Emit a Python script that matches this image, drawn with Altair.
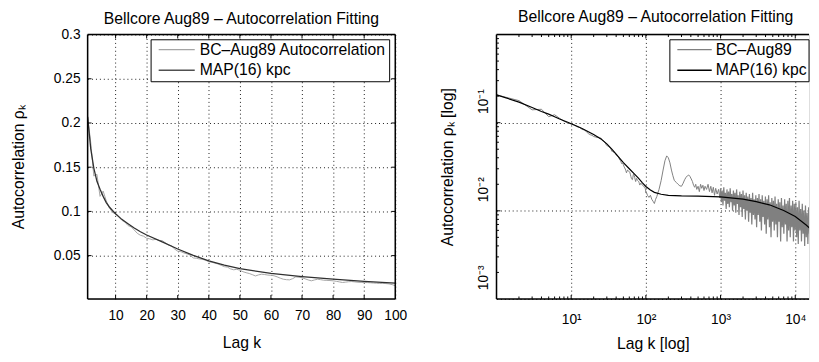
import altair as alt
import pandas as pd

FONT = "Liberation Sans"
TITLE = "Bellcore Aug89 \u2013 Autocorrelation Fitting"

# ---------------- data ----------------
# measured autocorrelation, lags 1..100
lags_short = list(range(1, 101))
acf_short = [0.207, 0.178, 0.140, 0.142, 0.117, 0.123, 0.112, 0.104, 0.099, 0.097,
             0.094, 0.090, 0.088, 0.084, 0.0826, 0.079, 0.0752, 0.073, 0.072, 0.0696,
             0.0690, 0.0678, 0.0685, 0.0672, 0.0670, 0.0645, 0.0620, 0.0610, 0.0575, 0.0550,
             0.0545, 0.0530, 0.0520, 0.0505, 0.0474, 0.0470, 0.0462, 0.0458, 0.0448, 0.0430,
             0.0425, 0.0415, 0.0405, 0.0390, 0.0375, 0.0370, 0.0350, 0.0340, 0.0345, 0.0335,
             0.0318, 0.0307, 0.0298, 0.0285, 0.0270, 0.0282, 0.0290, 0.0286, 0.0280, 0.0278,
             0.0272, 0.0260, 0.0245, 0.0233, 0.0228, 0.0226, 0.0240, 0.0260, 0.0255, 0.0250,
             0.0238, 0.0225, 0.0215, 0.0225, 0.0233, 0.0228, 0.0222, 0.0220, 0.0218, 0.0215,
             0.0210, 0.0203, 0.0196, 0.0200, 0.0205, 0.0207, 0.0203, 0.0199, 0.0197, 0.0196,
             0.0195, 0.0193, 0.0190, 0.0188, 0.0185, 0.0186, 0.0184, 0.0180, 0.0172, 0.0160]

# measured autocorrelation, lags beyond 100 (log panel only)
lags_tail = [101, 105, 110, 115, 120, 125, 130, 135, 140, 145, 150, 160, 170, 180, 190,
             200, 210, 220, 230, 240, 255, 270, 285, 300, 315, 330, 345, 360, 375, 390,
             405, 420, 435, 450, 465, 480, 500, 520, 540, 560, 580, 600, 620, 650, 680,
             710, 740, 770, 800, 830, 860, 900, 940, 980,
             1000, 1025, 1051, 1077, 1104, 1131, 1160, 1189, 1218, 1249, 1280, 1312, 1345,
             1379, 1413, 1448, 1485, 1522, 1560, 1599, 1639, 1680, 1722, 1765, 1809, 1854,
             1900, 1948, 1997,
             2046, 2098, 2150, 2204, 2259, 2315, 2373, 2433, 2493, 2556, 2620, 2685, 2752,
             2821, 2892, 2964, 3038, 3114, 3192, 3271, 3353, 3437, 3523, 3611, 3701, 3794,
             3889, 3986, 4085, 4188, 4292, 4400, 4510, 4622, 4738, 4856, 4978,
             5102, 5230, 5361, 5495, 5632, 5773, 5917, 6065, 6217, 6372, 6531, 6695, 6862,
             7034, 7209, 7390, 7574, 7764, 7958, 8157, 8361, 8570, 8784, 9003, 9229, 9459,
             9696, 9938,
             10187, 10441, 10703, 10970, 11244, 11525, 11814, 12109, 12412, 12722, 13040,
             13366, 13701, 14043, 14394, 14754, 15123, 15501, 15889, 16286]
acf_tail = [0.0165, 0.0150, 0.0142, 0.0150, 0.0135, 0.0128, 0.0121, 0.0135, 0.0145, 0.0160,
            0.0175, 0.0220, 0.0290, 0.0370, 0.0420, 0.0400, 0.0350, 0.0290, 0.0250, 0.0222,
            0.0210, 0.0200, 0.0192, 0.0190, 0.0205, 0.0225, 0.0240, 0.0250, 0.0255, 0.0245,
            0.0230, 0.0215, 0.0195, 0.0185, 0.0200, 0.0175, 0.0190, 0.0165, 0.0200, 0.0180,
            0.0195, 0.0170, 0.0190, 0.0175, 0.0200, 0.0165, 0.0190, 0.0160, 0.0185, 0.0150,
            0.0180, 0.0155, 0.0175, 0.0140,
            0.0180, 0.0125, 0.0170, 0.0115, 0.0185, 0.0130, 0.0160, 0.0105, 0.0175, 0.0120,
            0.0165, 0.0110, 0.0180, 0.0125, 0.0155, 0.0100, 0.0170, 0.0115, 0.0160, 0.0095,
            0.0175, 0.0120, 0.0150, 0.0090, 0.0165, 0.0110, 0.0155, 0.0085, 0.0170,
            0.0105, 0.0150, 0.0080, 0.0160, 0.0100, 0.0145, 0.0075, 0.0155, 0.0095, 0.0140,
            0.0070, 0.0160, 0.0090, 0.0135, 0.0080, 0.0150, 0.0065, 0.0140, 0.0090, 0.0155,
            0.0075, 0.0135, 0.0060, 0.0150, 0.0085, 0.0130, 0.0070, 0.0145, 0.0055, 0.0135,
            0.0080, 0.0150, 0.0065, 0.0125, 0.0050, 0.0140, 0.0075,
            0.0130, 0.0060, 0.0145, 0.0070, 0.0120, 0.0050, 0.0135, 0.0075, 0.0125, 0.0045,
            0.0140, 0.0065, 0.0115, 0.0055, 0.0135, 0.0070, 0.0120, 0.0045, 0.0130, 0.0060,
            0.0140, 0.0050, 0.0115, 0.0065, 0.0130, 0.0045, 0.0120, 0.0060,
            0.0125, 0.0050, 0.0110, 0.0042, 0.0130, 0.0060, 0.0105, 0.0045, 0.0120, 0.0055,
            0.0100, 0.0040, 0.0115, 0.0050, 0.0095, 0.0042, 0.0110, 0.0055, 0.0090, 0.0045]

# MAP(16) fitted curve
map_lags = [1, 2, 3, 4, 5, 6, 7, 8, 9, 10, 12, 14, 16, 18, 20, 25, 30, 35, 40, 45, 50,
            60, 70, 80, 90, 100, 115, 130, 160, 200, 300, 500, 1000, 2000, 3000, 4500,
            7000, 10000, 14000, 18000]
map_vals = [0.207, 0.171, 0.149, 0.134, 0.125, 0.117, 0.110, 0.105, 0.101, 0.0974,
            0.0910, 0.0860, 0.0812, 0.0770, 0.0733, 0.0655, 0.0575, 0.0502, 0.0440, 0.0392,
            0.0352, 0.0300, 0.0263, 0.0233, 0.0208, 0.0189, 0.0172, 0.0162, 0.0154, 0.0150,
            0.0148, 0.0147, 0.0144, 0.0136, 0.0127, 0.0117, 0.0101, 0.0086, 0.0069, 0.0057]

legend_left = ["BC\u2013Aug89 Autocorrelation", "MAP(16) kpc"]
legend_right = ["BC\u2013Aug89", "MAP(16) kpc"]

# axis ticks
lin_xticks = [10, 20, 30, 40, 50, 60, 70, 80, 90, 100]
lin_yticks = [0.05, 0.1, 0.15, 0.2, 0.25, 0.3]
log_xticks = [10, 100, 1000, 10000]
log_xlabels = ["10\u00b9", "10\u00b2", "10\u00b3", "10\u2074"]
log_yticks = [0.001, 0.01, 0.1]
log_ylabels = ["10\u207b\u00b3", "10\u207b\u00b2", "10\u207b\u00b9"]
log_xminor = [m * d for d in [1, 10, 100, 1000, 10000] for m in range(2, 10)]
log_yminor = [m * d for d in [0.001, 0.01, 0.1] for m in range(2, 10)]

# ---------------- layout constants ----------------
H = 269
W1 = 313
W2 = 318
X2_MAX = 15290
MAJ = 4
MIN = 2.5

def df(k, v):
    return pd.DataFrame({"k": k, "v": v})

one = pd.DataFrame({"z": [0]})

def axis_common(**kw):
    base = dict(grid=True, gridDash=[1, 3], gridColor="black", gridOpacity=0.9, gridWidth=1,
                ticks=False, tickSize=0, domain=False, labelFont=FONT, titleFont=FONT,
                labelFontSize=14, titleFontSize=16, labelColor="black", titleColor="black",
                titleFontWeight="normal", labelFlush=False, labelOverlap=False)
    base.update(kw)
    return alt.Axis(**base)

def frame(W, right_side=True):
    layers = [
        alt.Chart(one).mark_rule(color="black", strokeWidth=1.5).encode(
            x=alt.value(0), y=alt.value(0), y2=alt.value(H)),
        alt.Chart(one).mark_rule(color="black", strokeWidth=1.5).encode(
            x=alt.value(0), x2=alt.value(W), y=alt.value(0)),
        alt.Chart(one).mark_rule(color="black", strokeWidth=1.5).encode(
            x=alt.value(0), x2=alt.value(W), y=alt.value(H)),
    ]
    if right_side:
        layers.append(alt.Chart(one).mark_rule(color="black", strokeWidth=1.5).encode(
            x=alt.value(W), y=alt.value(0), y2=alt.value(H)))
    return layers

def ticks(xenc, yenc, xvals, yvals, W, size, right_side=True):
    dx = pd.DataFrame({"k": xvals})
    dy = pd.DataFrame({"v": yvals})
    layers = [
        alt.Chart(dx).mark_rule(color="black").encode(x=xenc, y=alt.value(H), y2=alt.value(H - size)),
        alt.Chart(dx).mark_rule(color="black").encode(x=xenc, y=alt.value(0), y2=alt.value(size)),
        alt.Chart(dy).mark_rule(color="black").encode(y=yenc, x=alt.value(0), x2=alt.value(size)),
    ]
    if right_side:
        layers.append(alt.Chart(dy).mark_rule(color="black").encode(
            y=yenc, x=alt.value(W), x2=alt.value(W - size)))
    return layers

def legend(labels, colors, x0, x1, sx0, sx1, tx):
    y0, y1 = 5.3, 48
    rows = [15.3, 36.3]
    layers = [alt.Chart(one).mark_rect(fill="white", stroke="black", strokeWidth=1).encode(
        x=alt.value(x0), x2=alt.value(x1), y=alt.value(y0), y2=alt.value(y1))]
    for lab, col, ry in zip(labels, colors, rows):
        layers.append(alt.Chart(one).mark_rule(color=col, strokeWidth=1.3).encode(
            x=alt.value(sx0), x2=alt.value(sx1), y=alt.value(ry)))
        layers.append(alt.Chart(pd.DataFrame({"label": [lab]})).mark_text(
            align="left", baseline="middle", font=FONT, fontSize=16, color="black").encode(
            x=alt.value(tx), y=alt.value(ry), text="label:N"))
    return layers

def title(offset, dx=0):
    return alt.TitleParams(TITLE, font=FONT, fontSize=16, fontWeight="normal", color="black",
                           offset=offset, frame="group", anchor="middle", dx=dx)

# ---------------- left panel (linear) ----------------
xl = alt.X("k:Q", scale=alt.Scale(domain=[1, 100], nice=False, zero=False),
           axis=axis_common(values=lin_xticks, title="Lag k", labelPadding=9.5, titlePadding=13))
yl = alt.Y("v:Q", scale=alt.Scale(domain=[0.001, 0.3], nice=False, zero=False),
           axis=axis_common(values=lin_yticks, format=".2~f", title="Autocorrelation \u03c1\u2096",
                            labelPadding=7.7, titlePadding=27.5))

n_map_short = len([k for k in map_lags if k <= 100])
left_layers = [
    alt.Chart(df(lags_short, acf_short)).mark_line(color="#a5a5a5", strokeWidth=1, clip=True).encode(x=xl, y=yl),
    alt.Chart(df(map_lags[:n_map_short], map_vals[:n_map_short]))
    .mark_line(color="#303030", strokeWidth=1.3, clip=True).encode(x=xl, y=yl),
]
left_layers += ticks(xl, yl, lin_xticks[:-1], lin_yticks[:-1], W1, MAJ)
left_layers += frame(W1)
left_layers += legend(legend_left, ["#a5a5a5", "#505050"], 64.6, 307.3, 72.3, 109, 114)

left = alt.layer(*left_layers).properties(width=W1, height=H, title=title(1))

# ---------------- right panel (log-log) ----------------
xr = alt.X("k:Q", scale=alt.Scale(type="log", domain=[1, X2_MAX], nice=False),
           axis=axis_common(values=log_xticks, title="Lag k [log]", labelPadding=14, titlePadding=9,
                            labelExpr="{'10':'%s','100':'%s','1000':'%s','10000':'%s'}[datum.value]" % tuple(log_xlabels)))
yr = alt.Y("v:Q", scale=alt.Scale(type="log", domain=[0.001, 1], nice=False),
           axis=axis_common(values=log_yticks, title="Autocorrelation \u03c1\u2096 [log]",
                            labelAngle=270, labelAlign="center", labelBaseline="middle",
                            labelOffset=-22, labelPadding=13, titlePadding=22,
                            labelExpr="datum.value < 0.005 ? '%s' : datum.value < 0.05 ? '%s' : '%s'" % tuple(log_ylabels)))

all_lags = lags_short + lags_tail
all_acf = acf_short + acf_tail
split = all_lags.index(980)
right_layers = [
    alt.Chart(df(all_lags[:split + 1], all_acf[:split + 1])).mark_line(
        color="#808080", strokeWidth=1, clip=True).encode(x=xr, y=yr),
    alt.Chart(df(all_lags[split:], all_acf[split:])).mark_line(
        color="#808080", strokeWidth=1.25, clip=True).encode(x=xr, y=yr),
    alt.Chart(df(map_lags, map_vals)).mark_line(color="black", strokeWidth=1.2, clip=True).encode(x=xr, y=yr),
]
right_layers += ticks(xr, yr, log_xticks, log_yticks[1:], W2, MAJ, right_side=False)
right_layers += ticks(xr, yr, [m for m in log_xminor if m <= X2_MAX], log_yminor, W2, MIN, right_side=False)
right_layers += frame(W2, right_side=False)
right_layers += legend(legend_right, ["#808080", "black"], 176.4, 318, 184, 219, 223)

right = alt.layer(*right_layers).properties(width=W2, height=H, title=title(9, 3))

chart = alt.hconcat(left, right, spacing=103, bounds="flush").properties(
    padding={"left": 2, "top": -3, "right": 0, "bottom": 0}
).configure_view(stroke=None).configure(background="white").configure_axis(
    labelOverlap=False, labelFlush=False
).configure_title(font=FONT, fontSize=16, fontWeight="normal", color="black")

chart.save("out.html", embed_options={"renderer": "svg", "actions": False})
